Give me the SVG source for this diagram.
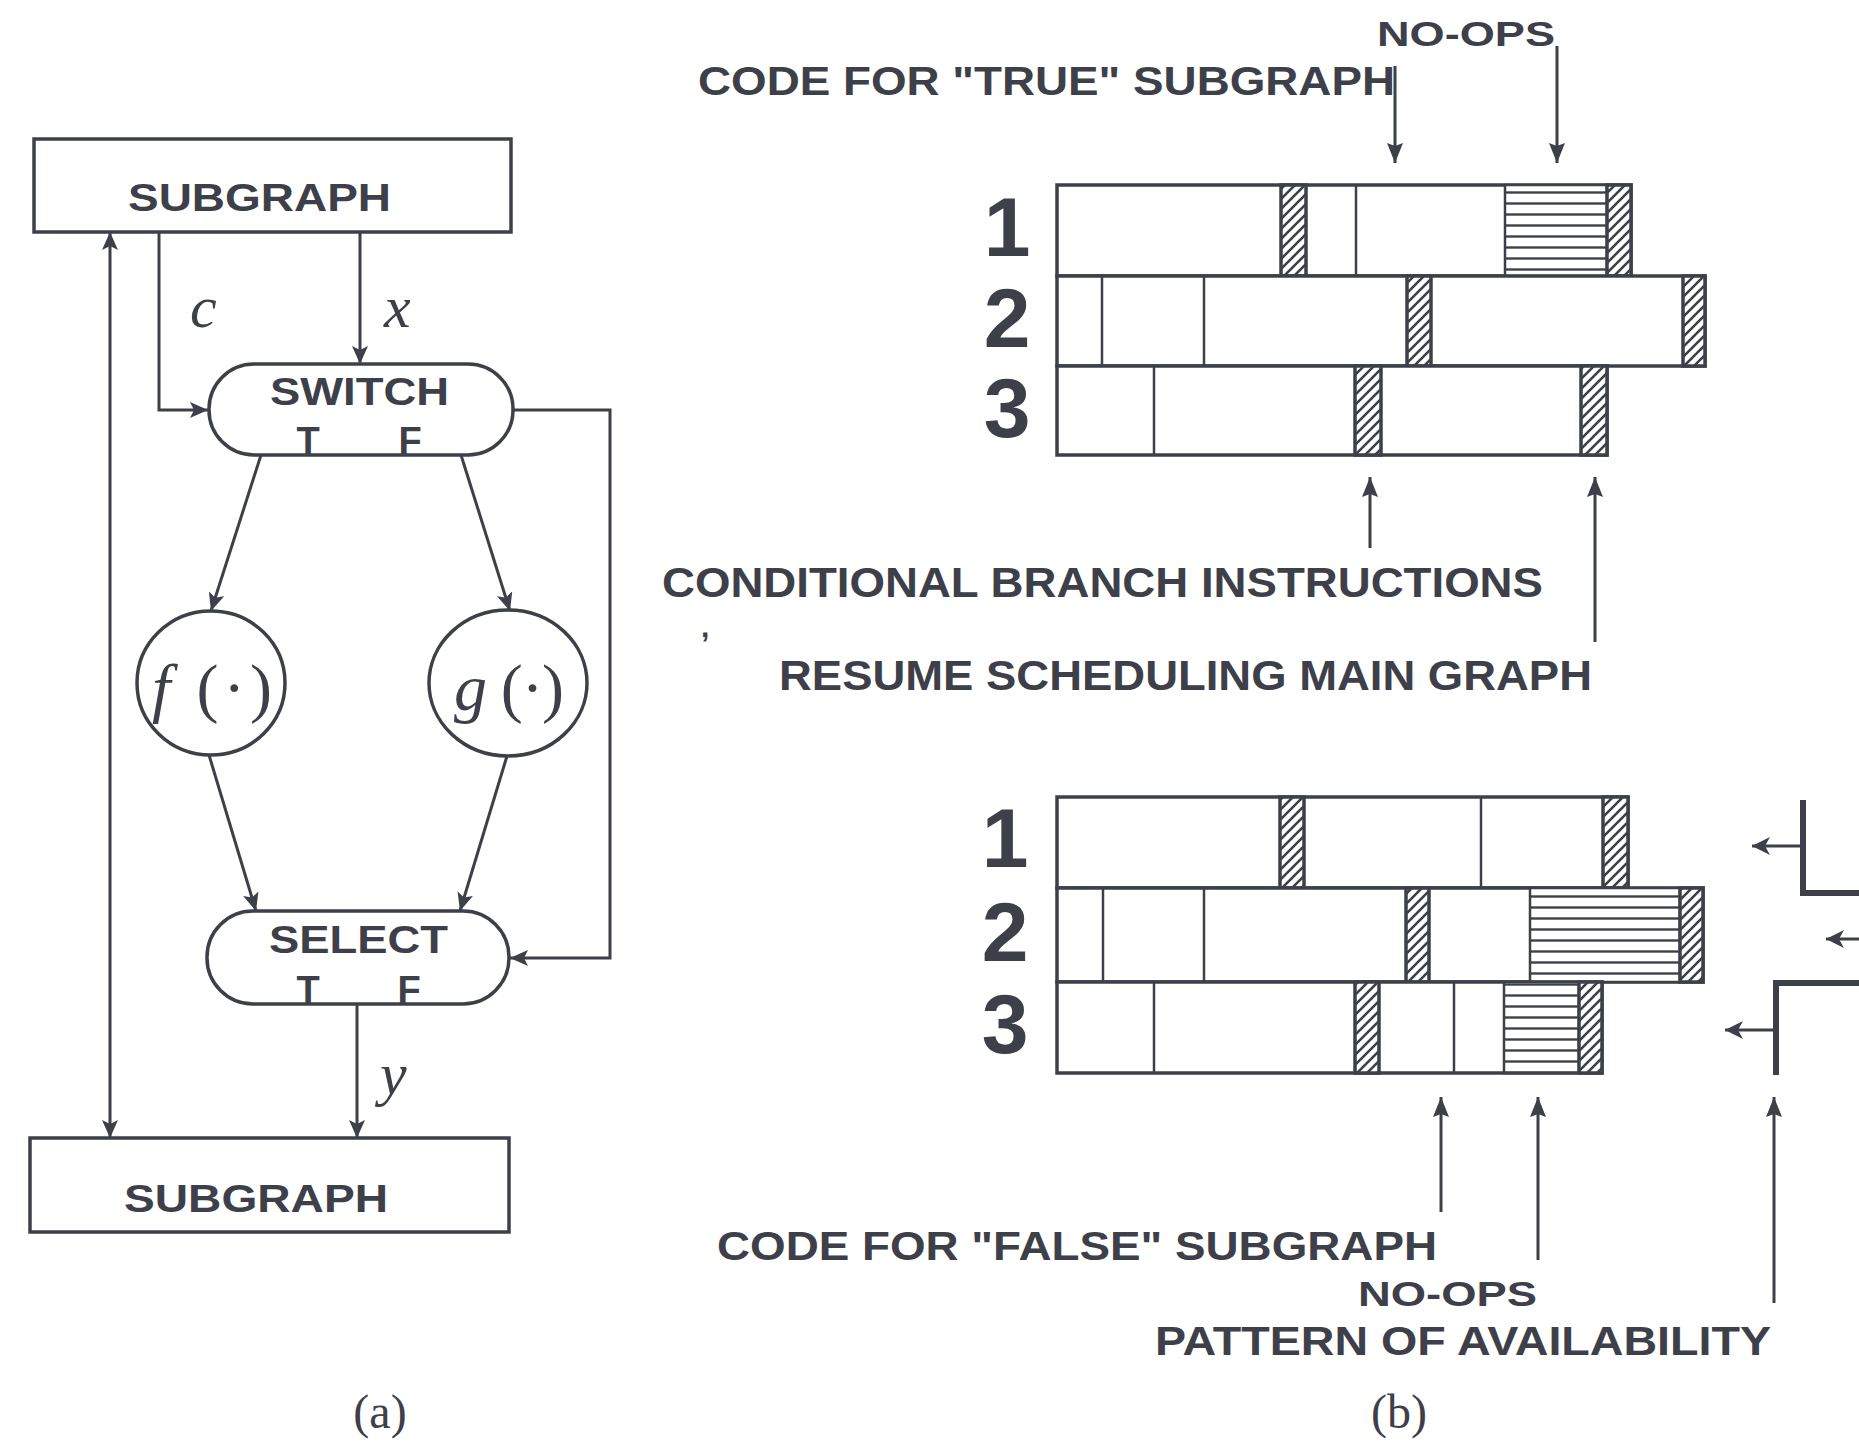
<svg xmlns="http://www.w3.org/2000/svg" width="1859" height="1453" viewBox="0 0 1859 1453">
  <style>
    .ink { fill: none; stroke: #3d4049; stroke-width: 3; }
    .box { fill: #fff; stroke: #3d4049; stroke-width: 3.5; }
    .row { fill: #fff; stroke: #3d4049; stroke-width: 3.5; }
    .div { stroke: #3d4049; stroke-width: 2.5; }
    .hatch { fill: url(#diag); stroke: #3d4049; stroke-width: 3.5; }
    .noop { fill: url(#hlines); stroke: #3d4049; stroke-width: 2.5; }
    .sans { font-family: "Liberation Sans", Arial, Helvetica, sans-serif; font-weight: bold; fill: #3d4049; }
    .serif { font-family: "Liberation Serif", "Times New Roman", serif; fill: #3d4049; }
    .lbl { font-size: 40px; }
    .num { font-size: 84px; }
    .var { font-size: 60px; font-style: italic; }
    .thick { fill: none; stroke: #3d4049; stroke-width: 6; }
    .thin { fill: none; stroke: #3d4049; stroke-width: 2.8; }
  </style>
  <defs>
    <marker id="ah" markerUnits="userSpaceOnUse" markerWidth="20" markerHeight="18" refX="18" refY="8" orient="auto-start-reverse">
      <path d="M0,0 L18,8 L0,16 L4,8 z" fill="#3d4049"/>
    </marker>
    <marker id="ahb" markerUnits="userSpaceOnUse" markerWidth="22" markerHeight="18" refX="20" refY="8" orient="auto-start-reverse">
      <path d="M0,0 L20,8 L0,16 L3,8 z" fill="#3d4049"/>
    </marker>
    <marker id="ahl" markerUnits="userSpaceOnUse" markerWidth="20" markerHeight="20" refX="18" refY="9" orient="auto">
      <path d="M0,0 L18,9 L0,18 L5,9 z" fill="#3d4049"/>
    </marker>
    <pattern id="diag" patternUnits="userSpaceOnUse" width="10" height="10">
      <rect width="10" height="10" fill="#fff"/>
      <path d="M-2,2 L2,-2 M0,10 L10,0 M8,12 L12,8" stroke="#3d4049" stroke-width="2.6"/>
    </pattern>
    <pattern id="hlines" patternUnits="userSpaceOnUse" width="20" height="11">
      <rect width="20" height="11" fill="#fff"/>
      <path d="M0,5.5 H20" stroke="#3d4049" stroke-width="2.4"/>
    </pattern>
  </defs>

  <rect width="1859" height="1453" fill="#fff"/>

  <!-- (a) data-flow graph: connectors -->
  <g id="connectors-a">
    <path class="ink" d="M110,232 V1138" marker-start="url(#ah)" marker-end="url(#ah)"/>
    <path class="ink" d="M159,232 V410 H208" marker-end="url(#ah)"/>
    <path class="ink" d="M360,232 V364" marker-end="url(#ah)"/>
    <path class="ink" d="M261,455 L211,611" marker-end="url(#ah)"/>
    <path class="ink" d="M461,455 L510,611" marker-end="url(#ah)"/>
    <path class="ink" d="M209,755 L256,911" marker-end="url(#ah)"/>
    <path class="ink" d="M507,756 L460,911" marker-end="url(#ah)"/>
    <path class="ink" d="M513,410 H610 V958 H510" marker-end="url(#ah)"/>
    <path class="ink" d="M357,1004 V1138" marker-end="url(#ah)"/>
    <text class="serif var" x="190" y="327">c</text>
    <text class="serif var" x="384" y="327">x</text>
    <text class="serif var" x="380" y="1094">y</text>
  </g>

  <!-- (a) nodes -->
  <g id="subgraph-top">
    <rect class="box" x="34" y="139" width="477" height="93"/>
    <text class="sans" font-size="39" x="128" y="211" textLength="263" lengthAdjust="spacingAndGlyphs">SUBGRAPH</text>
  </g>
  <g id="switch">
    <rect class="box" x="209" y="364" width="304" height="91" rx="45" ry="45"/>
    <text class="sans" font-size="39" x="270" y="405" textLength="179" lengthAdjust="spacingAndGlyphs">SWITCH</text>
    <text class="sans" font-size="38" x="308" y="454" text-anchor="middle">T</text>
    <text class="sans" font-size="38" x="410" y="454" text-anchor="middle">F</text>
  </g>
  <g id="f-node">
    <ellipse class="box" cx="211" cy="683" rx="74" ry="72"/>
    <text class="serif" font-size="66" x="152" y="710" textLength="120" lengthAdjust="spacing"><tspan font-style="italic">f</tspan> (·)</text>
  </g>
  <g id="g-node">
    <ellipse class="box" cx="508" cy="683" rx="79" ry="73"/>
    <text class="serif" font-size="66" x="454" y="710" textLength="110" lengthAdjust="spacing"><tspan font-style="italic">g</tspan> (·)</text>
  </g>
  <g id="select">
    <rect class="box" x="207" y="911" width="302" height="93" rx="46" ry="46"/>
    <text class="sans" font-size="39" x="269" y="953" textLength="179" lengthAdjust="spacingAndGlyphs">SELECT</text>
    <text class="sans" font-size="38" x="308" y="1003" text-anchor="middle">T</text>
    <text class="sans" font-size="38" x="409" y="1003" text-anchor="middle">F</text>
  </g>
  <g id="subgraph-bottom">
    <rect class="box" x="30" y="1138" width="479" height="94"/>
    <text class="sans" font-size="39" x="124" y="1212" textLength="264" lengthAdjust="spacingAndGlyphs">SUBGRAPH</text>
  </g>
  <text class="serif" font-size="48" x="380" y="1428" text-anchor="middle">(a)</text>

  <!-- (b) schedule for the "true" branch -->
  <g id="schedule-true">
    <text class="sans num" x="1007" y="256" text-anchor="middle">1</text>
    <text class="sans num" x="1007" y="347" text-anchor="middle">2</text>
    <text class="sans num" x="1007" y="437" text-anchor="middle">3</text>
    <g id="true-row1">
      <rect class="row" x="1057" y="185" width="574" height="91"/>
      <rect class="hatch" x="1281" y="185" width="25" height="91"/>
      <line class="div" x1="1356" y1="185" x2="1356" y2="276"/>
      <rect class="noop" x="1505" y="185" width="102" height="91"/>
      <rect class="hatch" x="1607" y="185" width="24" height="91"/>
    </g>
    <g id="true-row2">
      <rect class="row" x="1057" y="276" width="648" height="90"/>
      <line class="div" x1="1102" y1="276" x2="1102" y2="366"/>
      <line class="div" x1="1204" y1="276" x2="1204" y2="366"/>
      <rect class="hatch" x="1407" y="276" width="24" height="90"/>
      <rect class="hatch" x="1683" y="276" width="22" height="90"/>
    </g>
    <g id="true-row3">
      <rect class="row" x="1057" y="366" width="550" height="89"/>
      <line class="div" x1="1154" y1="366" x2="1154" y2="455"/>
      <rect class="hatch" x="1355" y="366" width="26" height="89"/>
      <rect class="hatch" x="1581" y="366" width="26" height="89"/>
    </g>
  </g>

  <!-- (b) schedule for the "false" branch -->
  <g id="schedule-false">
    <text class="sans num" x="1005" y="867" text-anchor="middle">1</text>
    <text class="sans num" x="1005" y="961" text-anchor="middle">2</text>
    <text class="sans num" x="1005" y="1053" text-anchor="middle">3</text>
    <g id="false-row1">
      <rect class="row" x="1057" y="797" width="571" height="91"/>
      <rect class="hatch" x="1280" y="797" width="24" height="91"/>
      <line class="div" x1="1481" y1="797" x2="1481" y2="888"/>
      <rect class="hatch" x="1603" y="797" width="25" height="91"/>
    </g>
    <g id="false-row2">
      <rect class="row" x="1057" y="888" width="646" height="94"/>
      <line class="div" x1="1103" y1="888" x2="1103" y2="982"/>
      <line class="div" x1="1204" y1="888" x2="1204" y2="982"/>
      <rect class="hatch" x="1406" y="888" width="23" height="94"/>
      <rect class="noop" x="1530" y="888" width="150" height="94"/>
      <rect class="hatch" x="1680" y="888" width="23" height="94"/>
    </g>
    <g id="false-row3">
      <rect class="row" x="1057" y="982" width="545" height="91"/>
      <line class="div" x1="1154" y1="982" x2="1154" y2="1073"/>
      <rect class="hatch" x="1355" y="982" width="24" height="91"/>
      <line class="div" x1="1454" y1="982" x2="1454" y2="1073"/>
      <rect class="noop" x="1504" y="982" width="75" height="91"/>
      <rect class="hatch" x="1579" y="982" width="23" height="91"/>
    </g>
  </g>

  <!-- (b) availability pattern at the right edge -->
  <g id="availability">
    <path class="thick" d="M1803,800 V893 H1859"/>
    <path class="thick" d="M1859,983 H1776 V1075"/>
    <path class="thin" d="M1803,846 H1752" marker-end="url(#ahl)"/>
    <path class="thin" d="M1859,939 H1826" marker-end="url(#ahl)"/>
    <path class="thin" d="M1776,1030 H1725" marker-end="url(#ahl)"/>
  </g>

  <!-- (b) callout arrows -->
  <g id="connectors-b">
    <path class="ink" d="M1395,66 V163" marker-end="url(#ahb)"/>
    <path class="ink" d="M1557,46 V163" marker-end="url(#ahb)"/>
    <path class="ink" d="M1370,548 V477" marker-end="url(#ahb)"/>
    <path class="ink" d="M1595,642 V477" marker-end="url(#ahb)"/>
    <path class="ink" d="M1441,1212 V1097" marker-end="url(#ahb)"/>
    <path class="ink" d="M1538,1260 V1097" marker-end="url(#ahb)"/>
    <path class="ink" d="M1774,1303 V1097" marker-end="url(#ahb)"/>
  </g>

  <!-- (b) callout labels -->
  <g id="labels-b">
    <text class="sans" font-size="35" x="1377" y="46" textLength="178" lengthAdjust="spacingAndGlyphs">NO-OPS</text>
    <text class="sans lbl" x="698" y="95" textLength="697" lengthAdjust="spacingAndGlyphs">CODE FOR "TRUE" SUBGRAPH</text>
    <text class="sans" font-size="42" x="662" y="597" textLength="881" lengthAdjust="spacingAndGlyphs">CONDITIONAL BRANCH INSTRUCTIONS</text>
    <text class="sans" font-size="30" x="701" y="637">,</text>
    <text class="sans" font-size="42" x="779" y="690" textLength="813" lengthAdjust="spacingAndGlyphs">RESUME SCHEDULING MAIN GRAPH</text>
    <text class="sans lbl" x="717" y="1260" textLength="720" lengthAdjust="spacingAndGlyphs">CODE FOR "FALSE" SUBGRAPH</text>
    <text class="sans" font-size="35" x="1358" y="1306" textLength="179" lengthAdjust="spacingAndGlyphs">NO-OPS</text>
    <text class="sans lbl" x="1155" y="1355" textLength="616" lengthAdjust="spacingAndGlyphs">PATTERN OF AVAILABILITY</text>
  </g>
  <text class="serif" font-size="48" x="1399" y="1428" text-anchor="middle">(b)</text>
</svg>
